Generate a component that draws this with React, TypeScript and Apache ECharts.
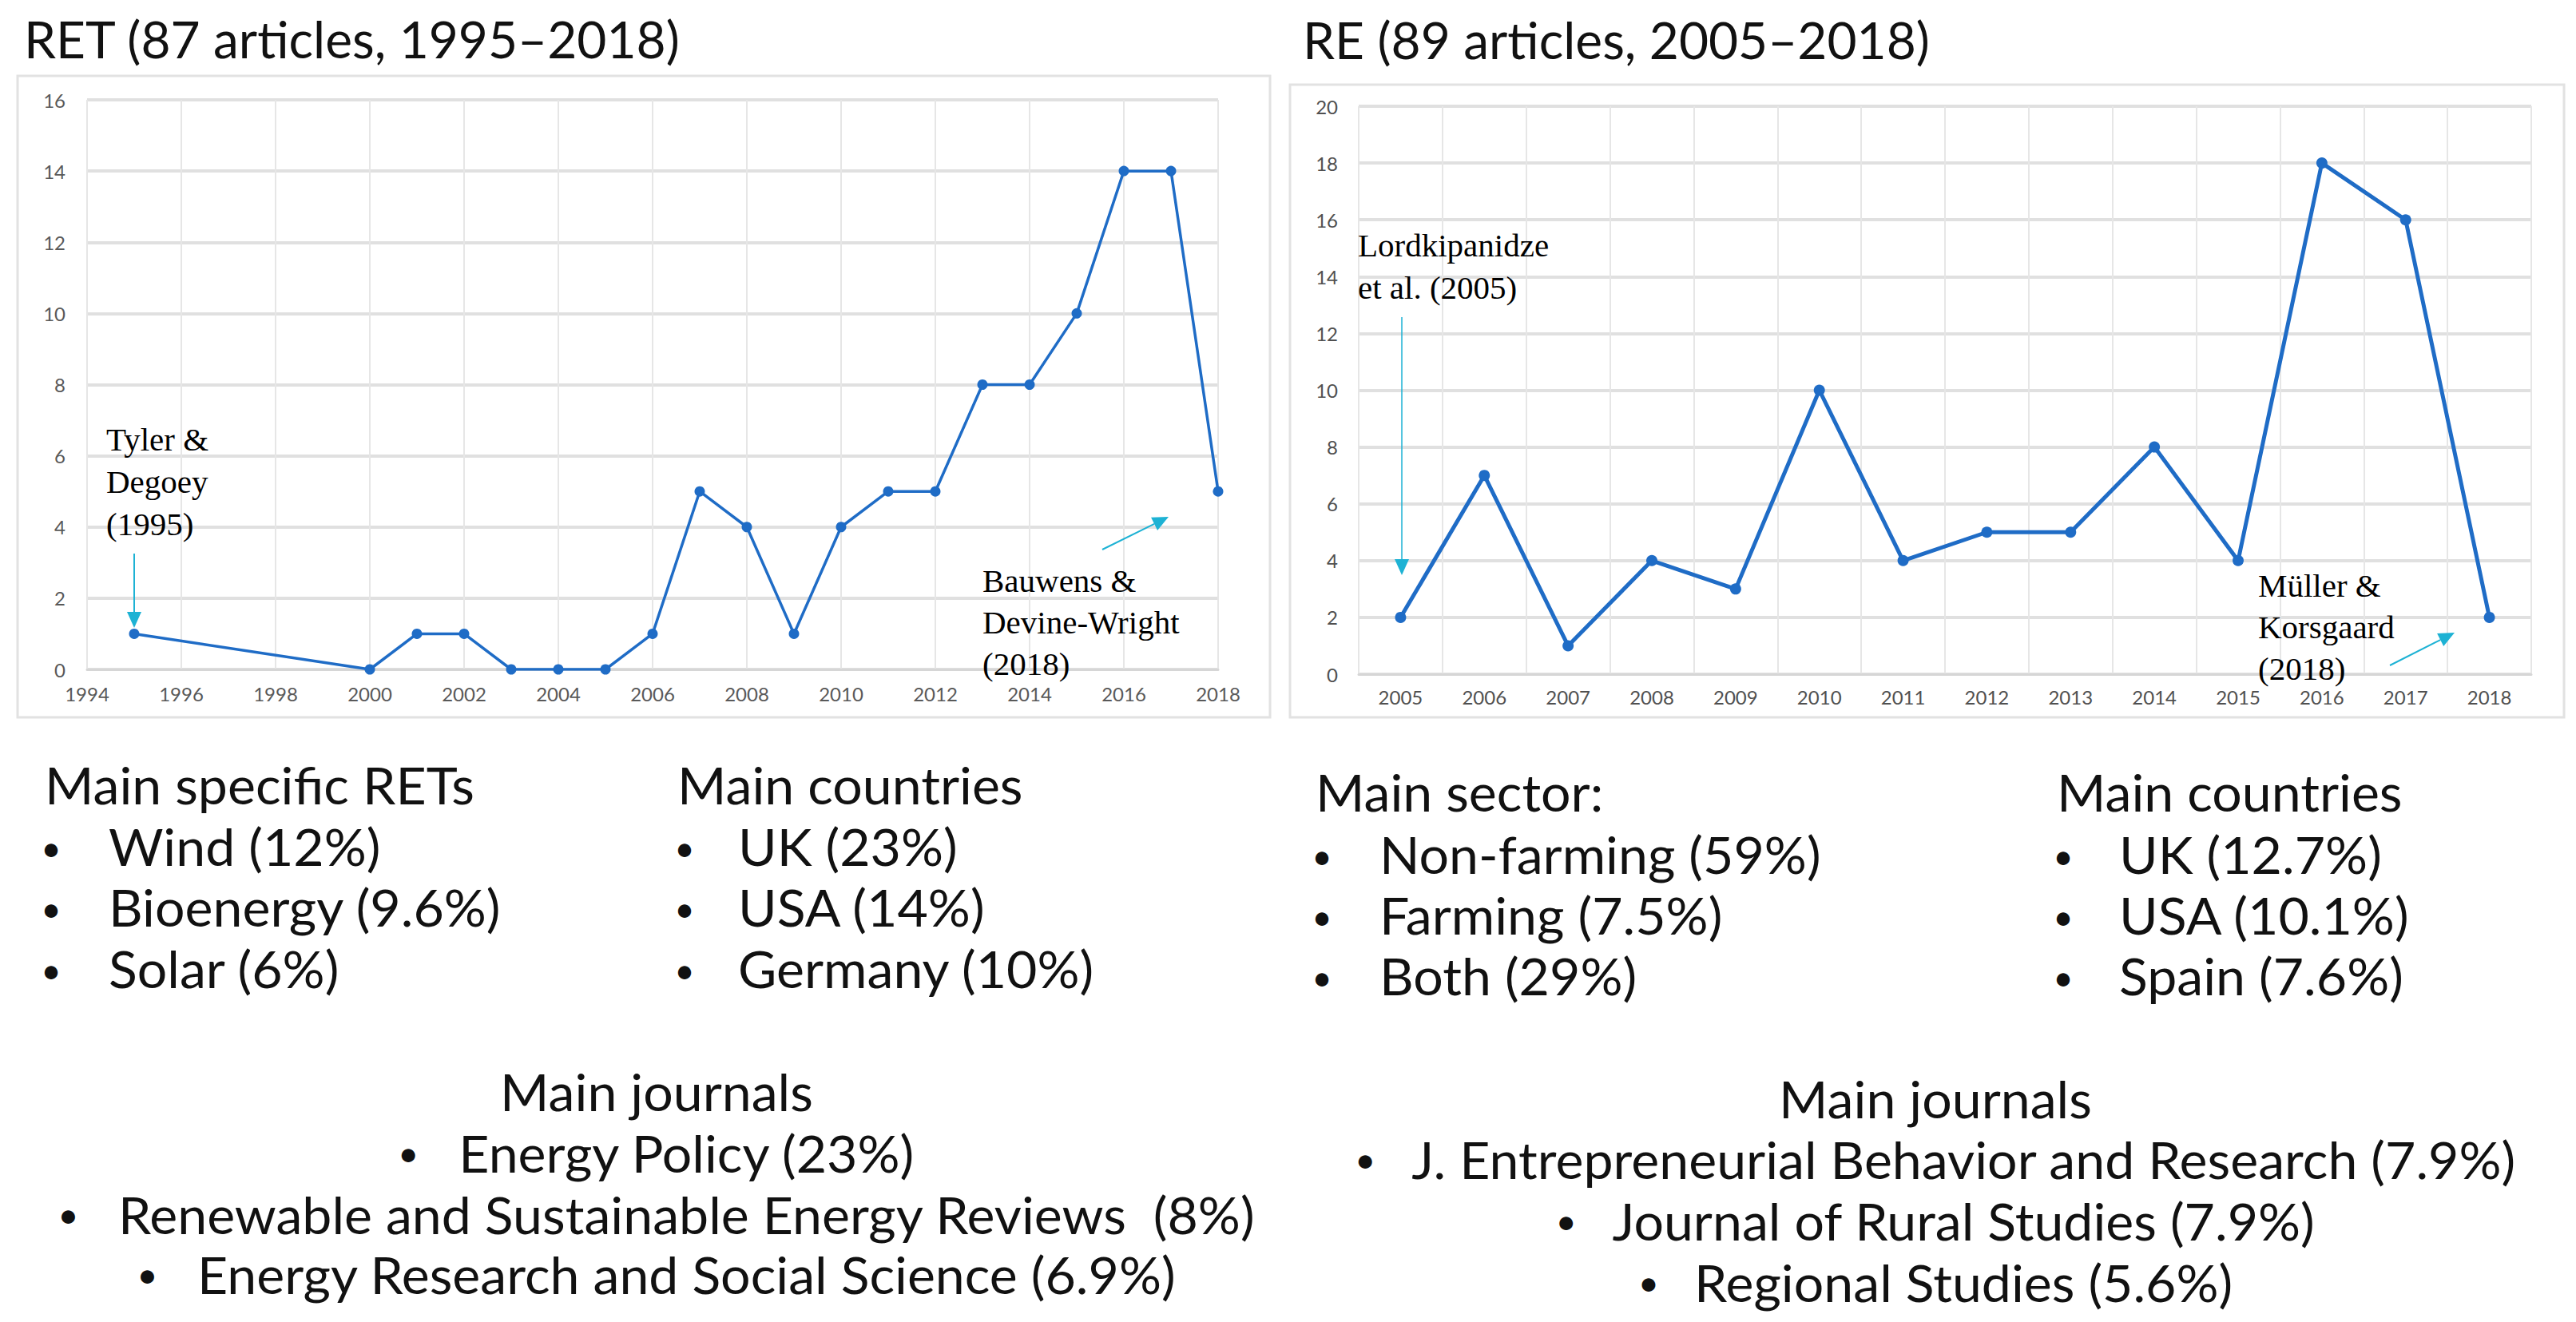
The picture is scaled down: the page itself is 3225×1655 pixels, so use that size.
import React, { useEffect, useRef } from "react";
import * as echarts from "echarts";

// ---------- data ----------
const retYears = [1995, 2000, 2001, 2002, 2003, 2004, 2005, 2006, 2007, 2008, 2009, 2010, 2011, 2012, 2013, 2014, 2015, 2016, 2017, 2018];
const retCounts = [1, 0, 1, 1, 0, 0, 0, 1, 5, 4, 1, 4, 5, 5, 8, 8, 10, 14, 14, 5];
const retXMin = 1994;
const retXMax = 2018;
const retXStep = 2;
const retYMax = 16;
const retYStep = 2;

const reYears = ["2005", "2006", "2007", "2008", "2009", "2010", "2011", "2012", "2013", "2014", "2015", "2016", "2017", "2018"];
const reCounts = [2, 7, 1, 4, 3, 10, 4, 5, 5, 8, 4, 18, 16, 2];
const reYMax = 20;
const reYStep = 2;

const retTitle = "RET (87 articles, 1995\u20132018)";
const reTitle = "RE (89 articles, 2005\u20132018)";

const retSpecificHead = "Main specific RETs";
const retSpecific = ["Wind (12%)", "Bioenergy (9.6%)", "Solar (6%)"];
const retCountriesHead = "Main countries";
const retCountries = ["UK (23%)", "USA (14%)", "Germany (10%)"];
const reSectorHead = "Main sector:";
const reSector = ["Non-farming (59%)", "Farming (7.5%)", "Both (29%)"];
const reCountriesHead = "Main countries";
const reCountries = ["UK (12.7%)", "USA (10.1%)", "Spain (7.6%)"];
const journalsHead = "Main journals";
const retJournals = ["Energy Policy (23%)", "Renewable and Sustainable Energy Reviews  (8%)", "Energy Research and Social Science (6.9%)"];
const reJournals = ["J. Entrepreneurial Behavior and Research (7.9%)", "Journal of Rural Studies (7.9%)", "Regional Studies (5.6%)"];

const retNoteFirst = "Tyler &\nDegoey\n(1995)";
const retNoteLast = "Bauwens &\nDevine-Wright\n(2018)";
const reNoteFirst = "Lordkipanidze\net al. (2005)";
const reNoteLast = "M\u00fcller &\nKorsgaard\n(2018)";

// ---------- styles ----------
const SANS = "Lato, 'Open Sans', sans-serif";
const SERIF = "'Liberation Serif', 'DejaVu Serif', serif";
const LINE_BLUE = "#1f6cc6";
const ARROW = "#1db2d4";
const GRID_H = "#e0e0e0";
const GRID_V = "#e6e6e6";
const LABEL = "#595959";
const LIST_FS = 64;
const LIST_SX = 1.035;
const BULLET_FS = 44;

function arrow(x1: number, y1: number, x2: number, y2: number, lw: number) {
  const dx = x2 - x1, dy = y2 - y1;
  const L = Math.hypot(dx, dy);
  const ux = dx / L, uy = dy / L;
  const hl = 20, hw = 9;
  const bx = x2 - ux * hl, by = y2 - uy * hl;
  const px = -uy, py = ux;
  return [
    { type: "line", silent: true, z: 50, shape: { x1, y1, x2: bx, y2: by }, style: { stroke: ARROW, lineWidth: lw } },
    {
      type: "polygon", silent: true, z: 50,
      shape: { points: [[x2, y2], [bx + px * hw, by + py * hw], [bx - px * hw, by - py * hw]] },
      style: { fill: ARROW },
    },
  ];
}

function txt(text: string, x: number, y: number, fs: number, align = "left", sx = 1) {
  return {
    type: "text", silent: true, x, y, scaleX: sx, z: 50,
    style: { text, fontSize: fs, fontFamily: SANS, fill: "#111", align, verticalAlign: "middle" },
  };
}

function list(head: string, items: string[], hx: number, bx: number, tx: number, ys: number[]) {
  const out: any[] = [txt(head, hx, ys[0], LIST_FS, "left", LIST_SX)];
  items.forEach((it, i) => {
    out.push(txt("\u2022", bx, ys[i + 1] + 2, BULLET_FS, "center"));
    out.push(txt(it, tx, ys[i + 1], LIST_FS, "left", LIST_SX));
  });
  return out;
}

function centeredList(items: string[], cx: number, ys: number[], gap: number) {
  const out: any[] = [txt(journalsHead, cx, ys[0], LIST_FS, "center", LIST_SX)];
  items.forEach((it, i) => {
    out.push({
      type: "text", silent: true, x: cx, y: ys[i + 1], scaleX: LIST_SX, z: 50,
      style: {
        text: "{b|\u2022}" + it,
        fontSize: LIST_FS, fontFamily: SANS, fill: "#111", align: "center", verticalAlign: "middle",
        rich: { b: { width: gap, fontSize: BULLET_FS, fontFamily: SANS, fill: "#111", align: "left" } },
      },
    });
  });
  return out;
}

function note(text: string, x: number, y: number, lh: number) {
  return {
    type: "text", silent: true, x, y, z: 60,
    style: { text, fontSize: 41, lineHeight: lh, fontFamily: SERIF, fill: "#000", align: "left", verticalAlign: "top" },
  };
}

export default function App() {
  const ref = useRef<HTMLDivElement>(null);
  useEffect(() => {
    if (!ref.current) return;
    const chart = echarts.init(ref.current, undefined, { renderer: "svg" });
    const axisLabel = { color: LABEL, fontSize: 24, fontFamily: SANS };
    const option: any = {
      animation: false,
      backgroundColor: "#ffffff",
      grid: [
        { left: 109, top: 125, width: 1416, height: 713 },
        { left: 1701, top: 133, width: 1468, height: 711 },
      ],
      xAxis: [
        {
          gridIndex: 0, type: "value", min: retXMin, max: retXMax, interval: retXStep,
          axisLine: { show: true, lineStyle: { color: "#d6d6d6", width: 3 } },
          axisTick: { show: false },
          axisLabel: { ...axisLabel, margin: 18, formatter: (v: number) => String(v) },
          splitLine: { show: true, lineStyle: { color: GRID_V, width: 2 } },
        },
        {
          gridIndex: 1, type: "category", data: reYears, boundaryGap: true,
          axisLine: { show: true, lineStyle: { color: "#d6d6d6", width: 3 } },
          axisTick: { show: false },
          axisLabel: { ...axisLabel, color: "#505050", margin: 16, interval: 0 },
          splitLine: { show: true, interval: 0, lineStyle: { color: GRID_V, width: 2 } },
        },
      ],
      yAxis: [
        {
          gridIndex: 0, type: "value", min: 0, max: retYMax, interval: retYStep,
          axisLine: { show: false }, axisTick: { show: false },
          axisLabel: { ...axisLabel, margin: 27 },
          splitLine: { show: true, lineStyle: { color: GRID_H, width: 4 } },
        },
        {
          gridIndex: 1, type: "value", min: 0, max: reYMax, interval: reYStep,
          axisLine: { show: false }, axisTick: { show: false },
          axisLabel: { ...axisLabel, color: "#505050", margin: 26 },
          splitLine: { show: true, lineStyle: { color: GRID_H, width: 4 } },
        },
      ],
      series: [
        {
          type: "line", xAxisIndex: 0, yAxisIndex: 0,
          data: retYears.map((y, i) => [y, retCounts[i]]),
          symbol: "circle", symbolSize: 13,
          lineStyle: { color: LINE_BLUE, width: 3.5 },
          itemStyle: { color: LINE_BLUE },
          z: 5,
        },
        {
          type: "line", xAxisIndex: 1, yAxisIndex: 1,
          data: reCounts,
          symbol: "circle", symbolSize: 14,
          lineStyle: { color: LINE_BLUE, width: 5 },
          itemStyle: { color: LINE_BLUE },
          z: 5,
        },
      ],
      graphic: [
        { type: "rect", silent: true, z: -10, shape: { x: 22, y: 95, width: 1568, height: 803 }, style: { fill: "none", stroke: "#e2e2e2", lineWidth: 3 } },
        { type: "rect", silent: true, z: -10, shape: { x: 1615, y: 106, width: 1595, height: 792 }, style: { fill: "none", stroke: "#e2e2e2", lineWidth: 3 } },
        txt(retTitle, 30, 48, 64),
        txt(reTitle, 1631, 49, 64),
        note(retNoteFirst, 133, 523, 53),
        note(retNoteLast, 1230, 701, 52),
        note(reNoteFirst, 1700, 280, 53),
        note(reNoteLast, 2827, 707, 52),
        ...arrow(168, 693, 168, 786, 2),
        ...arrow(1380, 688, 1463, 647, 2),
        ...arrow(1755, 397, 1755, 720, 1.5),
        ...arrow(2992, 833, 3073, 792, 2),
        ...list(retSpecificHead, retSpecific, 56, 64, 136, [982, 1059, 1135, 1212]),
        ...list(retCountriesHead, retCountries, 848, 857, 924, [982, 1059, 1135, 1212]),
        ...list(reSectorHead, reSector, 1647, 1655, 1727, [991, 1069, 1145, 1221]),
        ...list(reCountriesHead, reCountries, 2575, 2583, 2653, [991, 1069, 1145, 1221]),
        ...centeredList(retJournals, 822, [1366, 1443, 1520, 1595], 72),
        ...centeredList(reJournals, 2423, [1375, 1451, 1528, 1605], 68),
      ],
    };
    chart.setOption(option);
    return () => chart.dispose();
  }, []);
  return <div ref={ref} style={{ position: "fixed", left: 0, top: 0, width: 3225, height: 1655, background: "#fff" }} />;
}
